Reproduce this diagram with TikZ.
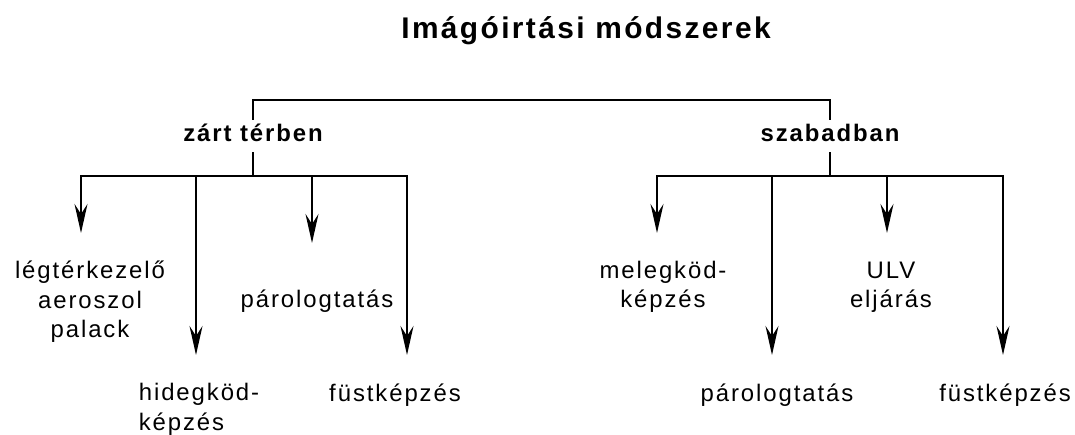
\documentclass[tikz,border=0pt]{standalone}
\usepackage{fontspec}
\setmainfont{Liberation Sans}[LetterSpace=8]
\usetikzlibrary{arrows.meta,positioning}

\begin{document}
\begin{tikzpicture}[x=1bp, y=-1bp,
		leaf/.style={font=\fontsize{24}{30}\selectfont, align=center, anchor=base, inner sep=0pt},
		group/.style={font=\fontsize{24}{30}\selectfont\bfseries, anchor=base, inner sep=5bp, text height=17bp, text depth=5bp},
		branch/.style={line width=1.8bp},
		arr/.style={branch, -{Stealth[length=29bp, width=13bp, inset=10bp]}}]
		\useasboundingbox (0,0) rectangle (1075,435);
		\node[font=\fontsize{30}{36}\selectfont\bfseries, anchor=base] (title) at (586,39) {Imágóirtási módszerek};
		\node[group] (zart) at (253,142) {zárt térben};
		\node[group] (szabad) at (830,142) {szabadban};
		\coordinate (top) at (541,100);
		\draw[branch] (zart.north) |- (top) -| (szabad.north);
		\coordinate (zc) at (253,176);
		\coordinate (z2) at (196,176);
		\coordinate (z3) at (312,176);
		\coordinate (e1) at (81,233);
		\coordinate (e2) at (196,355);
		\coordinate (e3) at (312,243);
		\coordinate (e4) at (407,355);
		\draw[branch] (zart.south) -- (zc);
		\draw[arr] (zc) -| (e1);
		\draw[arr] (zc) -| (e4);
		\draw[arr] (z2) -- (e2);
		\draw[arr] (z3) -- (e3);
		\coordinate (sc) at (830,176);
		\coordinate (s2) at (772,176);
		\coordinate (s3) at (887,176);
		\coordinate (f1) at (657,233);
		\coordinate (f2) at (772,355);
		\coordinate (f3) at (887,233);
		\coordinate (f4) at (1003,355);
		\draw[branch] (szabad.south) -- (sc);
		\draw[arr] (sc) -| (f1);
		\draw[arr] (sc) -| (f4);
		\draw[arr] (s2) -- (f2);
		\draw[arr] (s3) -- (f3);
		\node[leaf] (legter) at (90,338) {légtérkezelő\\aeroszol\\palack};
		\node[leaf, align=left] (hideg) at (199,430) {hidegköd-\\képzés};
		\node[leaf] (parzart) at (317,308) {párologtatás};
		\node[leaf] (fustzart) at (395,402) {füstképzés};
		\node[leaf] (meleg) at (663,308) {melegköd-\\képzés};
		\node[leaf] (parszab) at (777,402) {párologtatás};
		\node[leaf] (ulv) at (891,308) {ULV\\eljárás};
		\node[leaf] (fustszab) at (1005,402) {füstképzés};
\end{tikzpicture}
\end{document}
